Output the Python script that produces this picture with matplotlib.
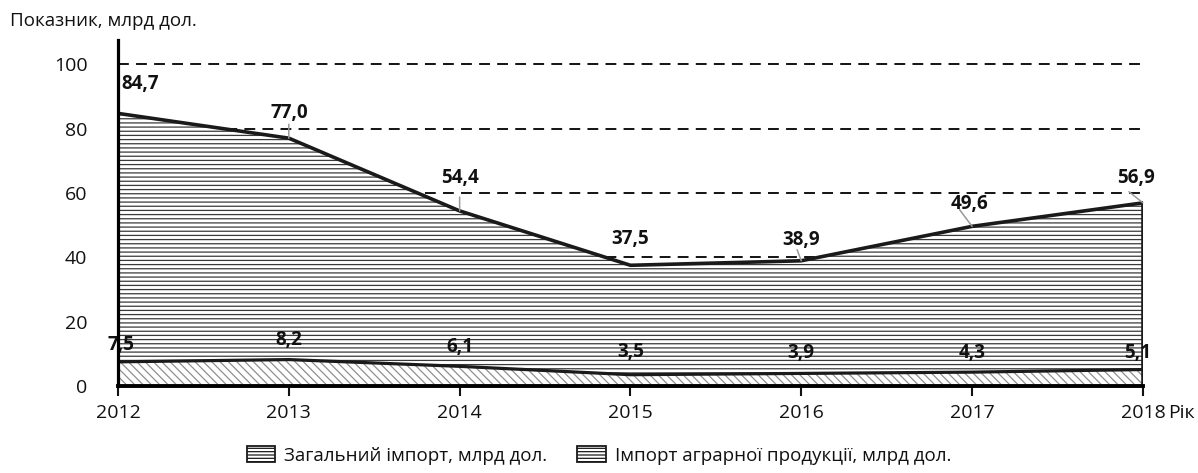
import matplotlib
matplotlib.use("Agg")
import matplotlib.pyplot as plt
from matplotlib.patches import Patch

years = [2012, 2013, 2014, 2015, 2016, 2017, 2018]
total_import = [84.7, 77.0, 54.4, 37.5, 38.9, 49.6, 56.9]
agri_import = [7.5, 8.2, 6.1, 3.5, 3.9, 4.3, 5.1]
total_labels = ["84,7", "77,0", "54,4", "37,5", "38,9", "49,6", "56,9"]
agri_labels = ["7,5", "8,2", "6,1", "3,5", "3,9", "4,3", "5,1"]
yticks = [0, 20, 40, 60, 80, 100]
legend_labels = ["Загальний імпорт, млрд дол.", "Імпорт аграрної продукції, млрд дол."]

plt.rcParams['font.family'] = ['Open Sans', 'DejaVu Sans']
plt.rcParams['hatch.linewidth'] = 0.9

TXT = '#111111'

fig = plt.figure(figsize=(11.98, 4.73), dpi=100)
ax = fig.add_axes([0.0985, 0.184, 0.8555, 0.7314])
ax.set_xlim(2012, 2018)
ax.set_ylim(0, 107.5)

# dashed grid lines behind the areas
for yv in yticks[1:]:
    ax.axhline(yv, color='black', lw=1.3, ls=(0, (6, 4)), zorder=0)

ax.fill_between(years, agri_import, total_import, facecolor='white',
                edgecolor='#3a3a3a', hatch='----', linewidth=0, zorder=1)
ax.fill_between(years, 0, agri_import, facecolor='white',
                edgecolor='#8f8f8f', hatch='\\\\\\\\', linewidth=0, zorder=1)
ax.plot(years, total_import, color='#1a1a1a', lw=2.6, zorder=3)
ax.plot(years, agri_import, color='#1a1a1a', lw=2.3, zorder=3)
ax.plot([years[-1], years[-1]], [0, total_import[-1]], color='#1a1a1a', lw=2.6, zorder=3)

# value labels (offsets in points, label centre relative to data point)
top_offsets = [(16, 21), (0, 18), (0, 24), (0, 19), (0, 15), (-2, 16), (-5, 18)]
for x, y, t, (dx, dy) in zip(years, total_import, total_labels, top_offsets):
    ax.annotate(t, (x, y), xytext=(dx, dy), textcoords='offset points',
                ha='center', va='center', fontsize=13.5, fontweight='bold', color=TXT,
                zorder=5)

# gray leader lines (end offsets in points)
leaders = [(0, 11), (0, 10), (0, 10), None, (-3, 8), (-9, 12), (-10, 8)]
for x, y, ld in zip(years, total_import, leaders):
    if ld is None:
        continue
    ax.annotate('', (x, y), xytext=ld, textcoords='offset points',
                arrowprops=dict(arrowstyle='-', color='#9a9a9a', lw=1.1, shrinkA=0, shrinkB=0),
                zorder=4)

bot_offsets = [(2, 12), (0, 14), (0, 14), (0, 16), (0, 15), (0, 14), (-4, 12)]
for x, y, t, (dx, dy) in zip(years, agri_import, agri_labels, bot_offsets):
    ax.annotate(t, (x, y), xytext=(dx, dy), textcoords='offset points',
                ha='center', va='center', fontsize=13.5, fontweight='bold', color=TXT,
                zorder=5)

for s in ['top', 'right']:
    ax.spines[s].set_visible(False)
ax.spines['left'].set_linewidth(2.3)
ax.spines['bottom'].set_linewidth(2.8)
ax.spines['left'].set_zorder(6)
ax.spines['bottom'].set_zorder(6)

ax.set_xticks(years)
ax.set_xticklabels([str(y) for y in years])
ax.set_yticks(yticks)
ax.tick_params(axis='x', direction='out', length=7, width=1.5, labelsize=14, pad=6, colors=TXT)
ax.tick_params(axis='y', length=0, labelsize=14, pad=22, colors=TXT)

fig.text(0.008, 0.955, "Показник, млрд дол.", fontsize=13.5, ha='left', va='center', color=TXT)
fig.text(0.975, 0.127, "Рік", fontsize=14, ha='left', va='center', color=TXT)

handles = [Patch(facecolor='white', edgecolor='#1a1a1a', hatch='-----', lw=1.3),
           Patch(facecolor='white', edgecolor='#1a1a1a', hatch='-----', lw=1.3)]
fig.legend(handles, legend_labels, loc='center', bbox_to_anchor=(0.5, 0.037), ncol=2,
           frameon=False, fontsize=13.5, handlelength=1.5, handleheight=0.9,
           columnspacing=1.6, handletextpad=0.5, labelcolor=TXT)

fig.savefig('out.png', dpi=100)
